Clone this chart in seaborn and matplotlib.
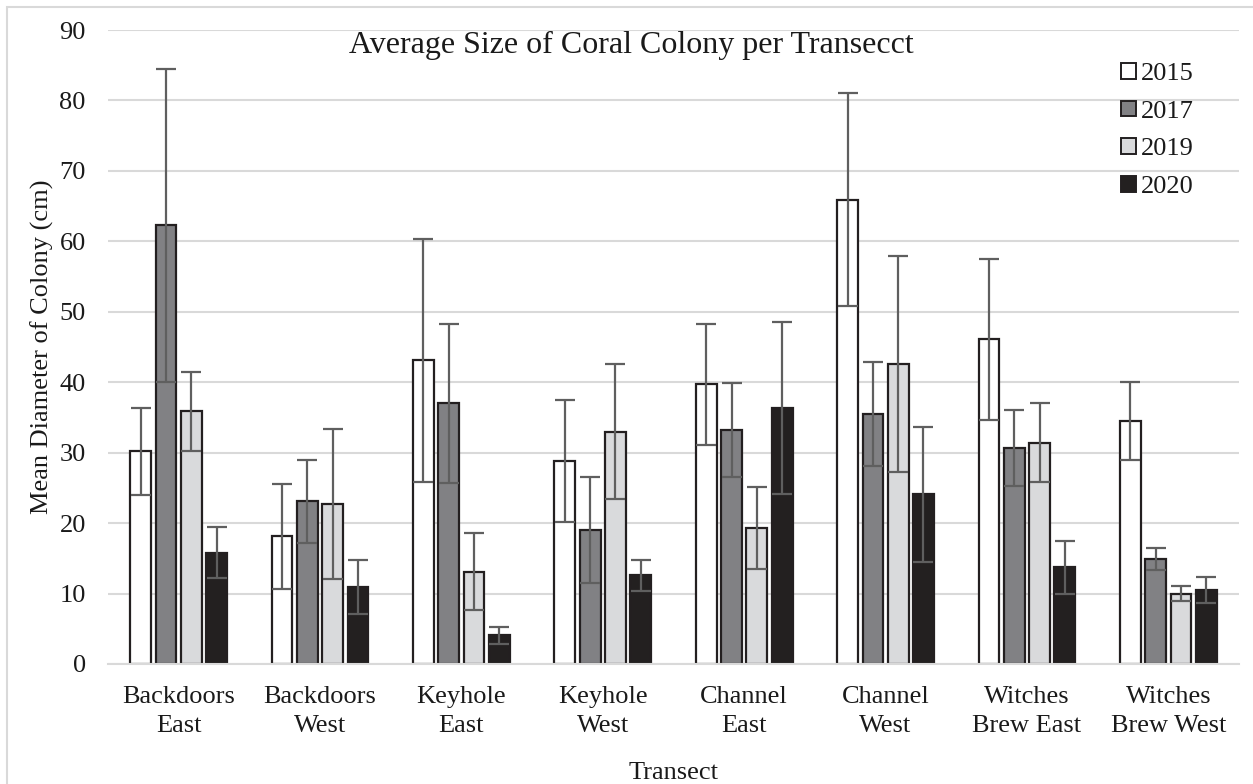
import pandas as pd
import seaborn as sns
import matplotlib.pyplot as plt
from matplotlib.patches import Rectangle

transects = ['Backdoors\nEast', 'Backdoors\nWest', 'Keyhole\nEast', 'Keyhole\nWest',
             'Channel\nEast', 'Channel\nWest', 'Witches\nBrew East', 'Witches\nBrew West']
years = ['2015', '2017', '2019', '2020']

mean_2015 = [30.2, 18.1, 43.1, 28.8, 39.7, 65.9, 46.1, 34.5]
mean_2017 = [62.3, 23.1, 37.0, 19.0, 33.2, 35.5, 30.6, 14.9]
mean_2019 = [35.9, 22.7, 13.1, 33.0, 19.3, 42.6, 31.4, 10.0]
mean_2020 = [15.8, 10.9, 4.1, 12.6, 36.3, 24.1, 13.7, 10.5]

err_2015 = [6.2, 7.5, 17.2, 8.7, 8.6, 15.1, 11.4, 5.6]
err_2017 = [22.2, 5.9, 11.3, 7.5, 6.7, 7.4, 5.4, 1.6]
err_2019 = [5.6, 10.7, 5.5, 9.6, 5.8, 15.3, 5.6, 1.1]
err_2020 = [3.6, 3.8, 1.2, 2.2, 12.2, 9.6, 3.7, 1.8]

means = [mean_2015, mean_2017, mean_2019, mean_2020]
errs = [err_2015, err_2017, err_2019, err_2020]

df = pd.DataFrame({
    'Transect': transects * 4,
    'Year': [y for y in years for _ in transects],
    'Mean': sum(means, []),
})

colors = ['#ffffff', '#808184', '#d9dadc', '#231f20']
fs = 19
serif = ['Liberation Serif', 'DejaVu Serif']

sns.set_style('white')
plt.rcParams['font.family'] = serif

fig, ax = plt.subplots(figsize=(12.53, 7.84), dpi=100)
fig.subplots_adjust(left=0.0862, right=0.9888, top=0.9617, bottom=0.1531)

sns.barplot(data=df, x='Transect', y='Mean', hue='Year', palette=colors,
            width=0.716, gap=0.18, errorbar=None, edgecolor='#231f20',
            linewidth=1.6, ax=ax)

for cont, e in zip(ax.containers, errs):
    xs = [b.get_x() + b.get_width() / 2 for b in cont]
    ys = [b.get_height() for b in cont]
    ax.errorbar(xs, ys, yerr=e, fmt='none', ecolor='#5f5f5f', elinewidth=1.6,
                capsize=7, capthick=1.6, zorder=5)

ax.set_xlim(-0.5, 7.5)
ax.set_ylim(0, 90)
ax.set_yticks(range(0, 91, 10))
ax.yaxis.grid(True, color='#d9d9d9', linewidth=1.5)
ax.set_axisbelow(True)
for s in ['top', 'right', 'left']:
    ax.spines[s].set_visible(False)
ax.spines['bottom'].set_color('#d9d9d9')
ax.spines['bottom'].set_linewidth(1.5)
ax.tick_params(axis='both', length=0, labelsize=fs, colors='#1a1a1a')
ax.tick_params(axis='x', pad=16)
ax.tick_params(axis='y', pad=16)
for t in ax.get_xticklabels():
    t.set_linespacing(1.4)
ax.set_xlabel('Transect', fontsize=fs, labelpad=18, color='#1a1a1a')
ax.set_ylabel('Mean Diameter of Colony (cm)', fontsize=fs, labelpad=4, color='#1a1a1a')
fig.text(631 / 1253, 1 - 45 / 784, 'Average Size of Coral Colony per Transecct',
         fontsize=23, ha='center', va='center', color='#1a1a1a')

leg = ax.legend(loc='upper left', bbox_to_anchor=(1121 / 1253, 1 - 63 / 784),
                bbox_transform=fig.transFigure, frameon=False,
                prop={'family': serif, 'size': fs},
                handlelength=0.55, handleheight=0.55, handletextpad=0.2,
                labelspacing=0.58, borderpad=0, borderaxespad=0)
for h in leg.legend_handles:
    h.set_edgecolor('#231f20')
    h.set_linewidth(1.4)
for t in leg.get_texts():
    t.set_color('#1a1a1a')

fig.patches.append(Rectangle((7 / 1253, -0.05), 1.1, 1.05 - 7 / 784,
                             transform=fig.transFigure, fill=False,
                             edgecolor='#d9d9d9', linewidth=1.5))

plt.savefig('out.png', dpi=100)
